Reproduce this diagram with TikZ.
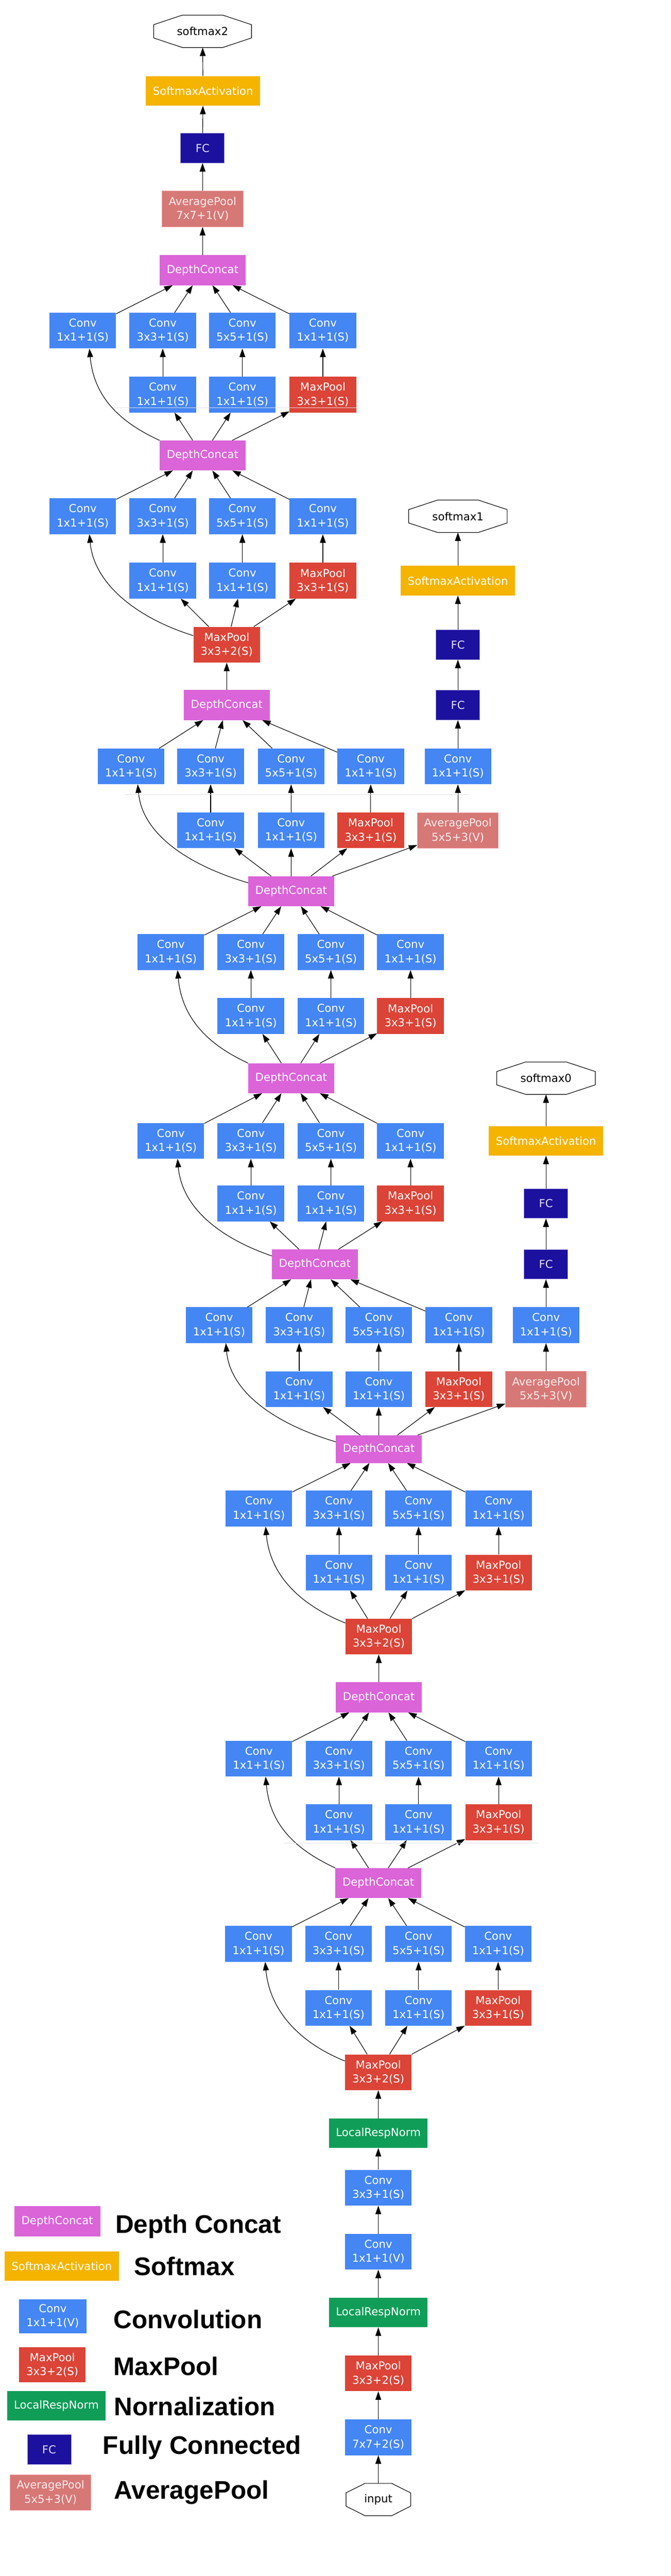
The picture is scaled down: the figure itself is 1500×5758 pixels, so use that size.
\documentclass[tikz,border=0pt]{standalone}
\usepackage{fontspec}
\setmainfont{DejaVu Sans}
\newfontfamily\legfont{Liberation Sans}
\usetikzlibrary{arrows.meta}
\newcommand\lab{\fontsize{24.5pt}{31.5pt}\selectfont}
\newcommand\legtxt{\legfont\bfseries\fontsize{57pt}{60pt}\selectfont}
\definecolor{cconv}{HTML}{4486F4}
\definecolor{cpool}{HTML}{DB4437}
\definecolor{cdc}{HTML}{DA64D8}
\definecolor{csm}{HTML}{F4B400}
\definecolor{cfc}{HTML}{1C109E}
\definecolor{cfcb}{HTML}{9C97D9}
\definecolor{cfct}{HTML}{E4E2F6}
\definecolor{cap}{HTML}{D67876}
\definecolor{capb}{HTML}{F2A8A8}
\definecolor{capt}{HTML}{FBECEC}
\definecolor{clrn}{HTML}{109D58}
\newcommand\incep[7]{%
  \node[conv] (#1a) at (#2,#6) {Conv\\1x1+1(S)};
  \node[conv] (#1b) at (#3,#6) {Conv\\3x3+1(S)};
  \node[conv] (#1c) at (#4,#6) {Conv\\5x5+1(S)};
  \node[conv] (#1d) at (#5,#6) {Conv\\1x1+1(S)};
  \node[conv] (#1e) at (#3,#7) {Conv\\1x1+1(S)};
  \node[conv] (#1f) at (#4,#7) {Conv\\1x1+1(S)};
  \node[mpool] (#1g) at (#5,#7) {MaxPool\\3x3+1(S)};
  \draw[arr] (#1e) -- (#1b);
  \draw[arr] (#1f) -- (#1c);
  \draw[arr] (#1g) -- (#1d);
}
\newcommand\feed[4]{%
  \draw[arr] ([yshift=-#3]#1.north west) .. controls +(-#4,-40) and +(10,110) .. ([xshift=15pt]#2a.south);
  \draw[arr] (#1) -- (#2e);
  \draw[arr] (#1) -- (#2f);
  \draw[arr] (#1) -- (#2g);
}
\newcommand\joinup[2]{%
  \draw[arr] (#1a) -- (#2);
  \draw[arr] (#1b) -- (#2);
  \draw[arr] (#1c) -- (#2);
  \draw[arr] (#1d) -- (#2);
}
\newcommand\octnode[5]{%
  \node[oct, minimum width=#4pt] (#1) at (#2,#3) {#5};
  \draw[octl] ([xshift=-0.2071*#4pt]#1.north) -- ([xshift=0.2071*#4pt]#1.north)
    -- ([yshift=14.9pt]#1.east) -- ([yshift=-14.9pt]#1.east)
    -- ([xshift=0.2071*#4pt]#1.south) -- ([xshift=-0.2071*#4pt]#1.south)
    -- ([yshift=-14.9pt]#1.west) -- ([yshift=14.9pt]#1.west) -- cycle;
}
\begin{document}
\begin{tikzpicture}[x=1pt,y=-1pt,
  nbox/.style={inner sep=0pt, text=white, font=\lab, align=center},
  conv/.style={nbox, fill=cconv, minimum width=149pt, minimum height=80pt},
  mpool/.style={nbox, fill=cpool, minimum width=149pt, minimum height=80pt},
  dc/.style={nbox, fill=cdc, minimum width=192pt, minimum height=67pt},
  sma/.style={nbox, fill=csm, minimum width=256pt, minimum height=66pt},
  fc/.style={nbox, fill=cfc, draw=cfcb, text=cfct, line width=1pt, minimum width=98pt, minimum height=66pt},
  apool/.style={nbox, fill=cap, draw=capb, text=capt, line width=1pt, minimum width=181pt, minimum height=80pt},
  lrn/.style={nbox, fill=clrn, minimum width=220pt, minimum height=66pt},
  oct/.style={inner sep=0pt, text=black, font=\lab, minimum height=72pt},
  octl/.style={line width=1.3pt, black},
  arr/.style={-{Triangle[length=19pt,width=13pt]}, line width=1.3pt, black},
  legt/.style={inner sep=0pt, anchor=base west, font=\legtxt, text=black},
  faint/.style={line width=1.2pt, black!12}]
\useasboundingbox[fill=white] (0,0) rectangle (1500,5758);

% ---- main column
\octnode{smx2}{453}{70}{218}{softmax2}
\node[sma] (sma2) at (454,203) {SoftmaxActivation};
\node[fc] (fc2) at (453,331) {FC};
\node[apool] (ap2) at (453,467) {AveragePool\\7x7+1(V)};
\node[dc] (dc5b) at (453,604) {DepthConcat};
\incep{i5b}{185}{364}{542}{722}{739}{882}
\node[dc] (dc5a) at (453,1018) {DepthConcat};
\incep{i5a}{185}{364}{542}{722}{1154}{1298}
\node[mpool] (mp4) at (507,1441) {MaxPool\\3x3+2(S)};
\node[dc] (dc4e) at (507,1576) {DepthConcat};
\incep{i4e}{293}{471}{651}{829}{1713}{1856}
\node[dc] (dc4d) at (651,1992) {DepthConcat};
\incep{i4d}{382}{561}{740}{918}{2128}{2271}
\node[dc] (dc4c) at (651,2410) {DepthConcat};
\incep{i4c}{382}{561}{740}{918}{2550}{2690}
\node[dc] (dc4b) at (704,2826) {DepthConcat};
\incep{i4b}{490}{669}{847}{1026}{2962}{3105}
\node[dc, minimum height=62pt] (dc4a) at (847,3239) {DepthConcat};
\incep{i4a}{579}{758}{936}{1115}{3372}{3515}
\node[mpool] (mp3) at (847,3658) {MaxPool\\3x3+2(S)};
\node[dc] (dc3b) at (847,3794) {DepthConcat};
\incep{i3b}{579}{758}{936}{1115}{3931}{4073}
\node[dc] (dc3a) at (846,4209) {DepthConcat};
\incep{i3a}{578}{757}{936}{1114}{4345}{4488}
\node[mpool] (mp2) at (846,4632) {MaxPool\\3x3+2(S)};
\node[lrn] (lrn2) at (846,4768) {LocalRespNorm};
\node[conv] (c3) at (846,4890) {Conv\\3x3+1(S)};
\node[conv] (c1) at (846,5033) {Conv\\1x1+1(V)};
\node[lrn] (lrn1) at (846,5169) {LocalRespNorm};
\node[mpool] (mp1) at (846,5305) {MaxPool\\3x3+2(S)};
\node[conv] (c7) at (846,5448) {Conv\\7x7+2(S)};
\octnode{inp}{846}{5587}{144}{input}

% ---- auxiliary classifier 1
\octnode{smx1}{1024}{1154}{220}{softmax1}
\node[sma] (sma1) at (1024,1298) {SoftmaxActivation};
\node[fc] (fc1b) at (1024,1441) {FC};
\node[fc] (fc1a) at (1024,1576) {FC};
\node[conv] (cv1) at (1024,1713) {Conv\\1x1+1(S)};
\node[apool] (ap1) at (1024,1856) {AveragePool\\5x5+3(V)};

% ---- auxiliary classifier 0
\octnode{smx0}{1221}{2410}{220}{softmax0}
\node[sma] (sma0) at (1221,2550) {SoftmaxActivation};
\node[fc] (fc0b) at (1221,2690) {FC};
\node[fc] (fc0a) at (1221,2826) {FC};
\node[conv] (cv0) at (1221,2962) {Conv\\1x1+1(S)};
\node[apool] (ap0) at (1221,3105) {AveragePool\\5x5+3(V)};

% ---- edges
\draw[arr] (inp) -- (c7);
\draw[arr] (c7) -- (mp1);
\draw[arr] (mp1) -- (lrn1);
\draw[arr] (lrn1) -- (c1);
\draw[arr] (c1) -- (c3);
\draw[arr] (c3) -- (lrn2);
\draw[arr] (lrn2) -- (mp2);
\feed{mp2}{i3a}{15pt}{100}
\joinup{i3a}{dc3a}
\feed{dc3a}{i3b}{0pt}{86}
\joinup{i3b}{dc3b}
\draw[arr] (dc3b) -- (mp3);
\feed{mp3}{i4a}{10pt}{100}
\joinup{i4a}{dc4a}
\feed{dc4a}{i4b}{15pt}{135}
\joinup{i4b}{dc4b}
\draw[arr] (dc4a) -- (ap0);
\draw[arr] (ap0) -- (cv0);
\draw[arr] (cv0) -- (fc0a);
\draw[arr] (fc0a) -- (fc0b);
\draw[arr] (fc0b) -- (sma0);
\draw[arr] (sma0) -- (smx0);
\feed{dc4b}{i4c}{15pt}{116}
\joinup{i4c}{dc4c}
\feed{dc4c}{i4d}{0pt}{87}
\joinup{i4d}{dc4d}
\feed{dc4d}{i4e}{15pt}{136}
\joinup{i4e}{dc4e}
\draw[arr] (dc4d) -- (ap1);
\draw[arr] (ap1) -- (cv1);
\draw[arr] (cv1) -- (fc1a);
\draw[arr] (fc1a) -- (fc1b);
\draw[arr] (fc1b) -- (sma1);
\draw[arr] (sma1) -- (smx1);
\draw[arr] (dc4e) -- (mp4);
\feed{mp4}{i5a}{20pt}{128}
\joinup{i5a}{dc5a}
\feed{dc5a}{i5b}{0pt}{87}
\joinup{i5b}{dc5b}
\draw[arr] (dc5b) -- (ap2);
\draw[arr] (ap2) -- (fc2);
\draw[arr] (fc2) -- (sma2);
\draw[arr] (sma2) -- (smx2);

% ---- faint rules
\draw[faint] (252,911) -- (805,911);
\draw[faint] (280,1776) -- (1047,1776);
\draw[faint] (634,4120) -- (1203,4120);

% ---- legend
\node[dc] (lg1) at (128,4965) {DepthConcat};
\node[legt] (lt1) at (258,4992) {Depth Concat};
\node[sma] (lg2) at (138,5065) {SoftmaxActivation};
\node[legt] (lt2) at (300,5086) {Softmax};
\node[conv, minimum width=151pt, minimum height=76pt] (lg3) at (118,5177) {Conv\\1x1+1(V)};
\node[legt] (lt3) at (254,5205) {Convolution};
\node[mpool, minimum height=79pt] (lg4) at (117,5286) {MaxPool\\3x3+2(S)};
\node[legt] (lt4) at (254,5309) {MaxPool};
\node[lrn, minimum width=219pt] (lg5) at (126,5377) {LocalRespNorm};
\node[legt] (lt5) at (255,5399) {Nornalization};
\node[fc] (lg6) at (110,5475) {FC};
\node[legt] (lt6) at (230,5486) {Fully Connected};
\node[apool] (lg7) at (113,5571) {AveragePool\\5x5+3(V)};
\node[legt] (lt7) at (255,5586) {AveragePool};
\end{tikzpicture}
\end{document}
